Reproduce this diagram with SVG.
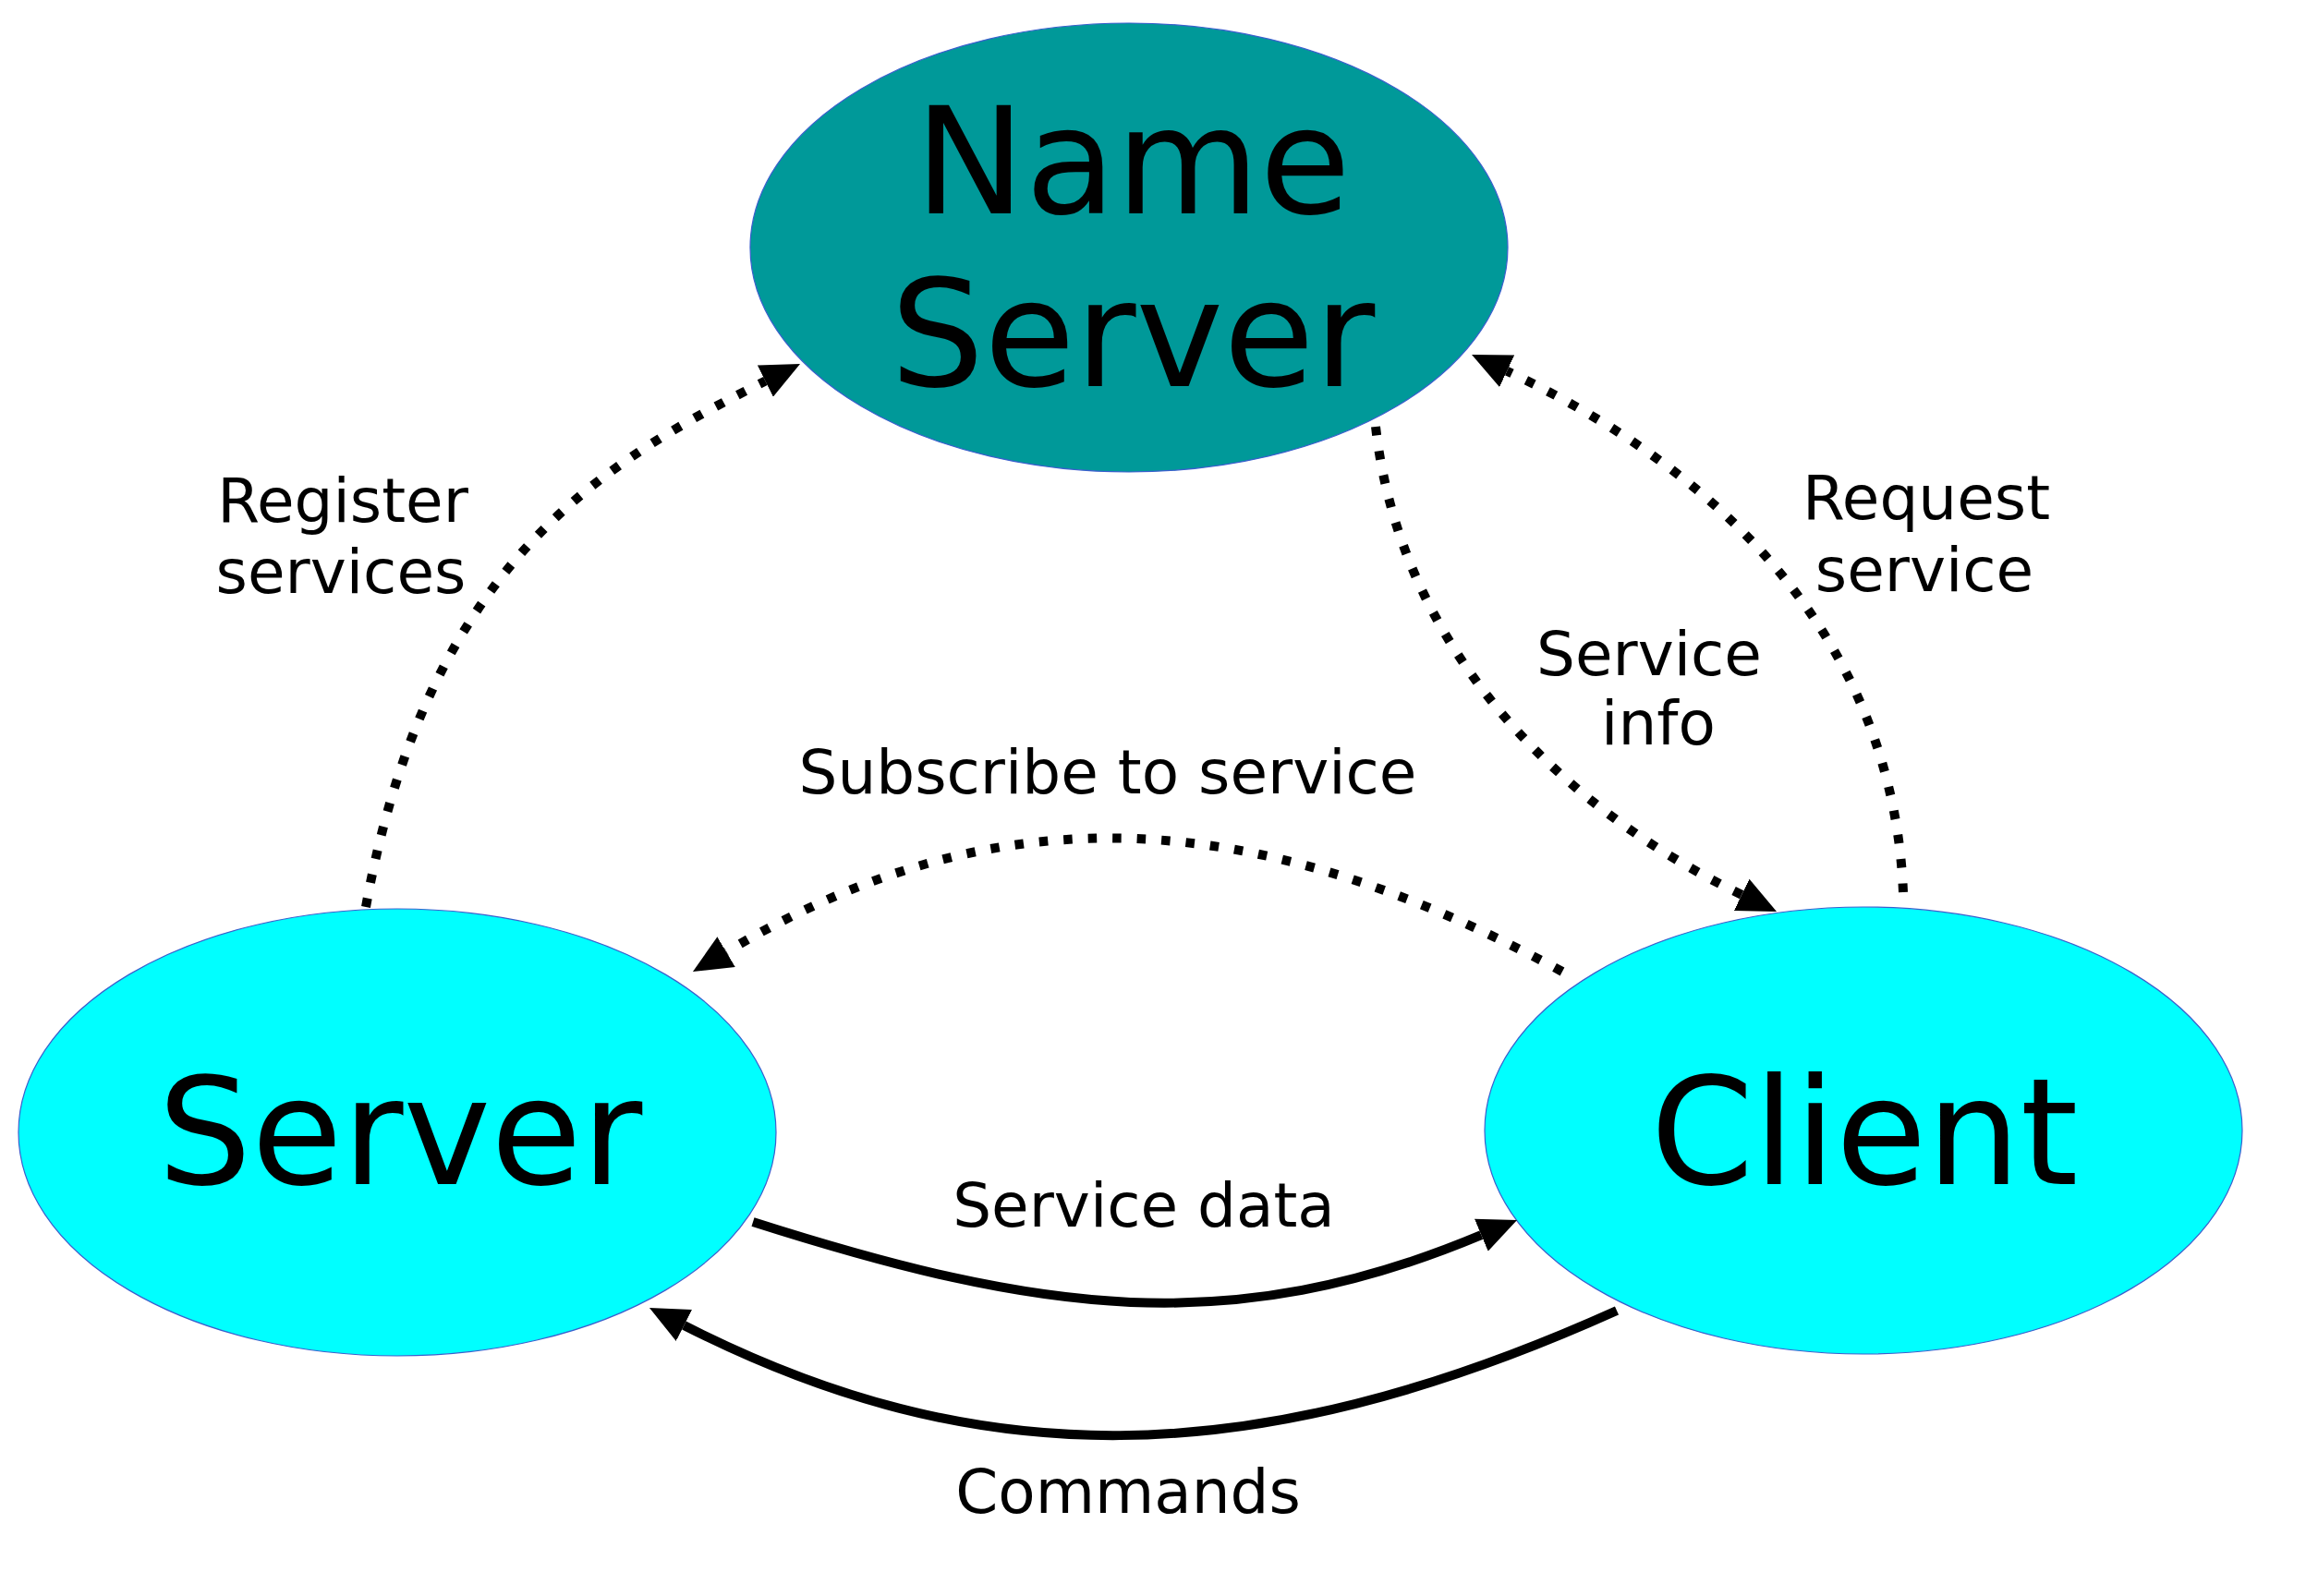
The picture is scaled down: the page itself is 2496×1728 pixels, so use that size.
<svg xmlns="http://www.w3.org/2000/svg" width="2496" height="1728" viewBox="0 0 2496 1728">
  <style>
    .node-text { font-family: "DejaVu Sans", "Liberation Sans", sans-serif; font-size: 160px; fill: #000; text-anchor: middle; }
    .label { font-family: "DejaVu Sans", "Liberation Sans", sans-serif; font-size: 66px; fill: #000; text-anchor: middle; }
    .dotted { fill: none; stroke: #000; stroke-width: 10; stroke-dasharray: 9.5 17; }
    .solid { fill: none; stroke: #000; stroke-width: 10; }
    .outline { stroke: #3a5fcd; stroke-width: 1.2; }
  </style>
  <defs>
    <marker id="arrow" markerUnits="userSpaceOnUse" viewBox="0 -19 42 38" refX="0" refY="0" markerWidth="42" markerHeight="38" orient="auto">
      <path d="M0,-19 L42,0 L0,19 Z" fill="#000"/>
    </marker>
  </defs>
  <rect width="2496" height="1728" fill="#fff"/>

  <g id="name-server">
    <ellipse class="outline" cx="1222" cy="268" rx="410" ry="243" fill="#009999"/>
    <text class="node-text" x="1226" y="231">Name</text>
    <text class="node-text" x="1226" y="418">Server</text>
  </g>

  <g id="server">
    <ellipse class="outline" cx="430" cy="1226" rx="410" ry="242" fill="#00ffff"/>
    <text class="node-text" x="433" y="1282">Server</text>
  </g>

  <g id="client">
    <ellipse class="outline" cx="2017" cy="1224" rx="410" ry="242" fill="#00ffff"/>
    <text class="node-text" x="2018" y="1282">Client</text>
  </g>

  <g id="connectors">
    <path id="register" class="dotted" d="M396,982 C462,615 648,502 828.4,412.6" marker-end="url(#arrow)"/>
    <path id="request" class="dotted" d="M2060,966 C2050,720 1895,525 1631.1,401.8" marker-end="url(#arrow)"/>
    <path id="service-info" class="dotted" d="M1489,462 C1515,695 1680,870 1885.2,968.8" marker-end="url(#arrow)"/>
    <path id="subscribe" class="dotted" d="M1691,1052 C1342,863 1069,863 786.1,1030.6" marker-end="url(#arrow)"/>
    <path id="service-data" class="solid" d="M815,1323 C1125,1422 1332,1451 1603.3,1337.2" marker-end="url(#arrow)"/>
    <path id="commands" class="solid" d="M1750,1419 C1350,1599 1053,1594 740.4,1435" marker-end="url(#arrow)"/>
  </g>

  <g id="labels">
    <text class="label" x="371" y="565">Register</text>
    <text class="label" x="369" y="642">services</text>
    <text class="label" x="2085" y="562">Request</text>
    <text class="label" x="2083" y="640">service</text>
    <text class="label" x="1785" y="731">Service</text>
    <text class="label" x="1795" y="806">info</text>
    <text class="label" x="1199" y="859">Subscribe to service</text>
    <text class="label" x="1238" y="1328">Service data</text>
    <text class="label" x="1221" y="1638">Commands</text>
  </g>
</svg>
